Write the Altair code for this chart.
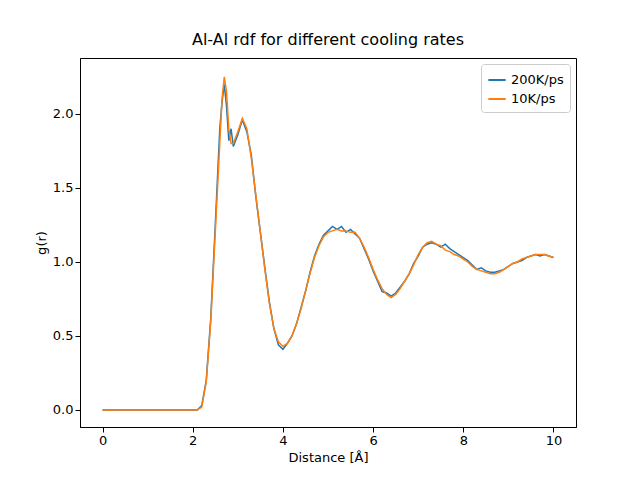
import altair as alt
import pandas as pd

r = [0.0, 0.5, 1.0, 1.5, 2.0, 2.1, 2.2, 2.3, 2.4, 2.5, 2.6, 2.65, 2.7, 2.75, 2.8, 2.85, 2.9, 3.0, 3.1, 3.2, 3.3,
     3.4, 3.5, 3.6, 3.7, 3.8, 3.9, 4.0, 4.1, 4.2, 4.3, 4.4, 4.5, 4.6, 4.7, 4.8, 4.9, 5.0, 5.1,
     5.2, 5.3, 5.4, 5.5, 5.6, 5.7, 5.8, 5.9, 6.0, 6.1, 6.2, 6.3, 6.4, 6.5, 6.6, 6.7, 6.8, 6.9,
     7.0, 7.1, 7.2, 7.3, 7.4, 7.5, 7.6, 7.7, 7.8, 7.9, 8.0, 8.1, 8.2, 8.3, 8.4, 8.5, 8.6, 8.7,
     8.8, 8.9, 9.0, 9.1, 9.2, 9.3, 9.4, 9.5, 9.6, 9.7, 9.8, 9.9, 10.0]
g_200 = [0.0, 0.0, 0.0, 0.0, 0.0, 0.0, 0.03, 0.2, 0.62, 1.25, 1.9, 2.08, 2.2, 2.05, 1.82, 1.9, 1.78, 1.86, 1.96, 1.88, 1.72,
         1.44, 1.2, 0.96, 0.73, 0.55, 0.44, 0.41, 0.45, 0.5, 0.58, 0.69, 0.8, 0.93, 1.04, 1.12, 1.18, 1.21, 1.24,
         1.22, 1.24, 1.2, 1.22, 1.19, 1.16, 1.09, 1.02, 0.94, 0.87, 0.8, 0.79, 0.77, 0.79, 0.83, 0.87, 0.92, 0.99,
         1.04, 1.1, 1.12, 1.13, 1.12, 1.1, 1.12, 1.09, 1.07, 1.05, 1.03, 1.01, 0.98, 0.95, 0.96, 0.94, 0.93, 0.93,
         0.94, 0.95, 0.97, 0.99, 1.0, 1.01, 1.03, 1.04, 1.05, 1.04, 1.05, 1.04, 1.03]
g_10 = [0.0, 0.0, 0.0, 0.0, 0.0, 0.0, 0.02, 0.19, 0.6, 1.2, 1.8, 2.1, 2.25, 2.15, 1.9, 1.8, 1.8, 1.88, 1.97, 1.9, 1.7,
        1.45, 1.2, 0.95, 0.72, 0.55, 0.46, 0.43, 0.45, 0.5, 0.58, 0.68, 0.8, 0.92, 1.03, 1.11, 1.17, 1.2, 1.21,
        1.22, 1.21, 1.21, 1.2, 1.2, 1.16, 1.1, 1.03, 0.95, 0.88, 0.82, 0.78, 0.76, 0.78, 0.82, 0.87, 0.92, 0.98,
        1.05, 1.1, 1.13, 1.14, 1.12, 1.11, 1.08, 1.07, 1.05, 1.04, 1.02, 1.0, 0.97, 0.95, 0.94, 0.93, 0.92, 0.92,
        0.93, 0.95, 0.97, 0.99, 1.0, 1.02, 1.03, 1.04, 1.05, 1.05, 1.05, 1.04, 1.03]

series = ["200K/ps", "10K/ps"]
colors = ["#1f77b4", "#ff7f0e"]

df1 = pd.DataFrame({"r": r, "g": g_200, "s": series[0]})
df2 = pd.DataFrame({"r": r, "g": g_10, "s": series[1]})

x = alt.X("r:Q", title="Distance [Å]", scale=alt.Scale(domain=[-0.5, 10.5], nice=False, zero=False),
          axis=alt.Axis(values=[0, 2, 4, 6, 8, 10], format="d"))
y = alt.Y("g:Q", title="g(r)", scale=alt.Scale(domain=[-0.115, 2.378], nice=False, zero=False),
          axis=alt.Axis(values=[0, 0.5, 1.0, 1.5, 2.0], format=".1f"))
color = alt.Color("s:N", title=None, scale=alt.Scale(domain=series, range=colors),
                  legend=alt.Legend(orient="top-right", symbolType="stroke", symbolStrokeWidth=2,
                                    strokeColor="#cccccc", fillColor="white", padding=6, offset=6,
                                    labelFontSize=13, symbolSize=300, cornerRadius=3))

l1 = alt.Chart(df1).mark_line(strokeWidth=1.5).encode(x=x, y=y, color=color)
l2 = alt.Chart(df2).mark_line(strokeWidth=1.5).encode(x=x, y=y, color=color)

chart = alt.layer(l1, l2).properties(
    width=496, height=369,
    title=alt.TitleParams("Al-Al rdf for different cooling rates", fontSize=16, fontWeight="normal", offset=10),
    autosize=alt.AutoSizeParams(type="none"),
    padding={"left": 72, "top": 50, "right": 56, "bottom": 45},
).configure(font="DejaVu Sans").configure_axis(
    grid=False, labelFontSize=13, titleFontSize=13, titleFontWeight="normal",
    tickColor="black", domainColor="black", labelColor="black", tickSize=5,
).configure_view(stroke="black")

chart.save("out.html", embed_options={"renderer": "svg", "actions": False})
